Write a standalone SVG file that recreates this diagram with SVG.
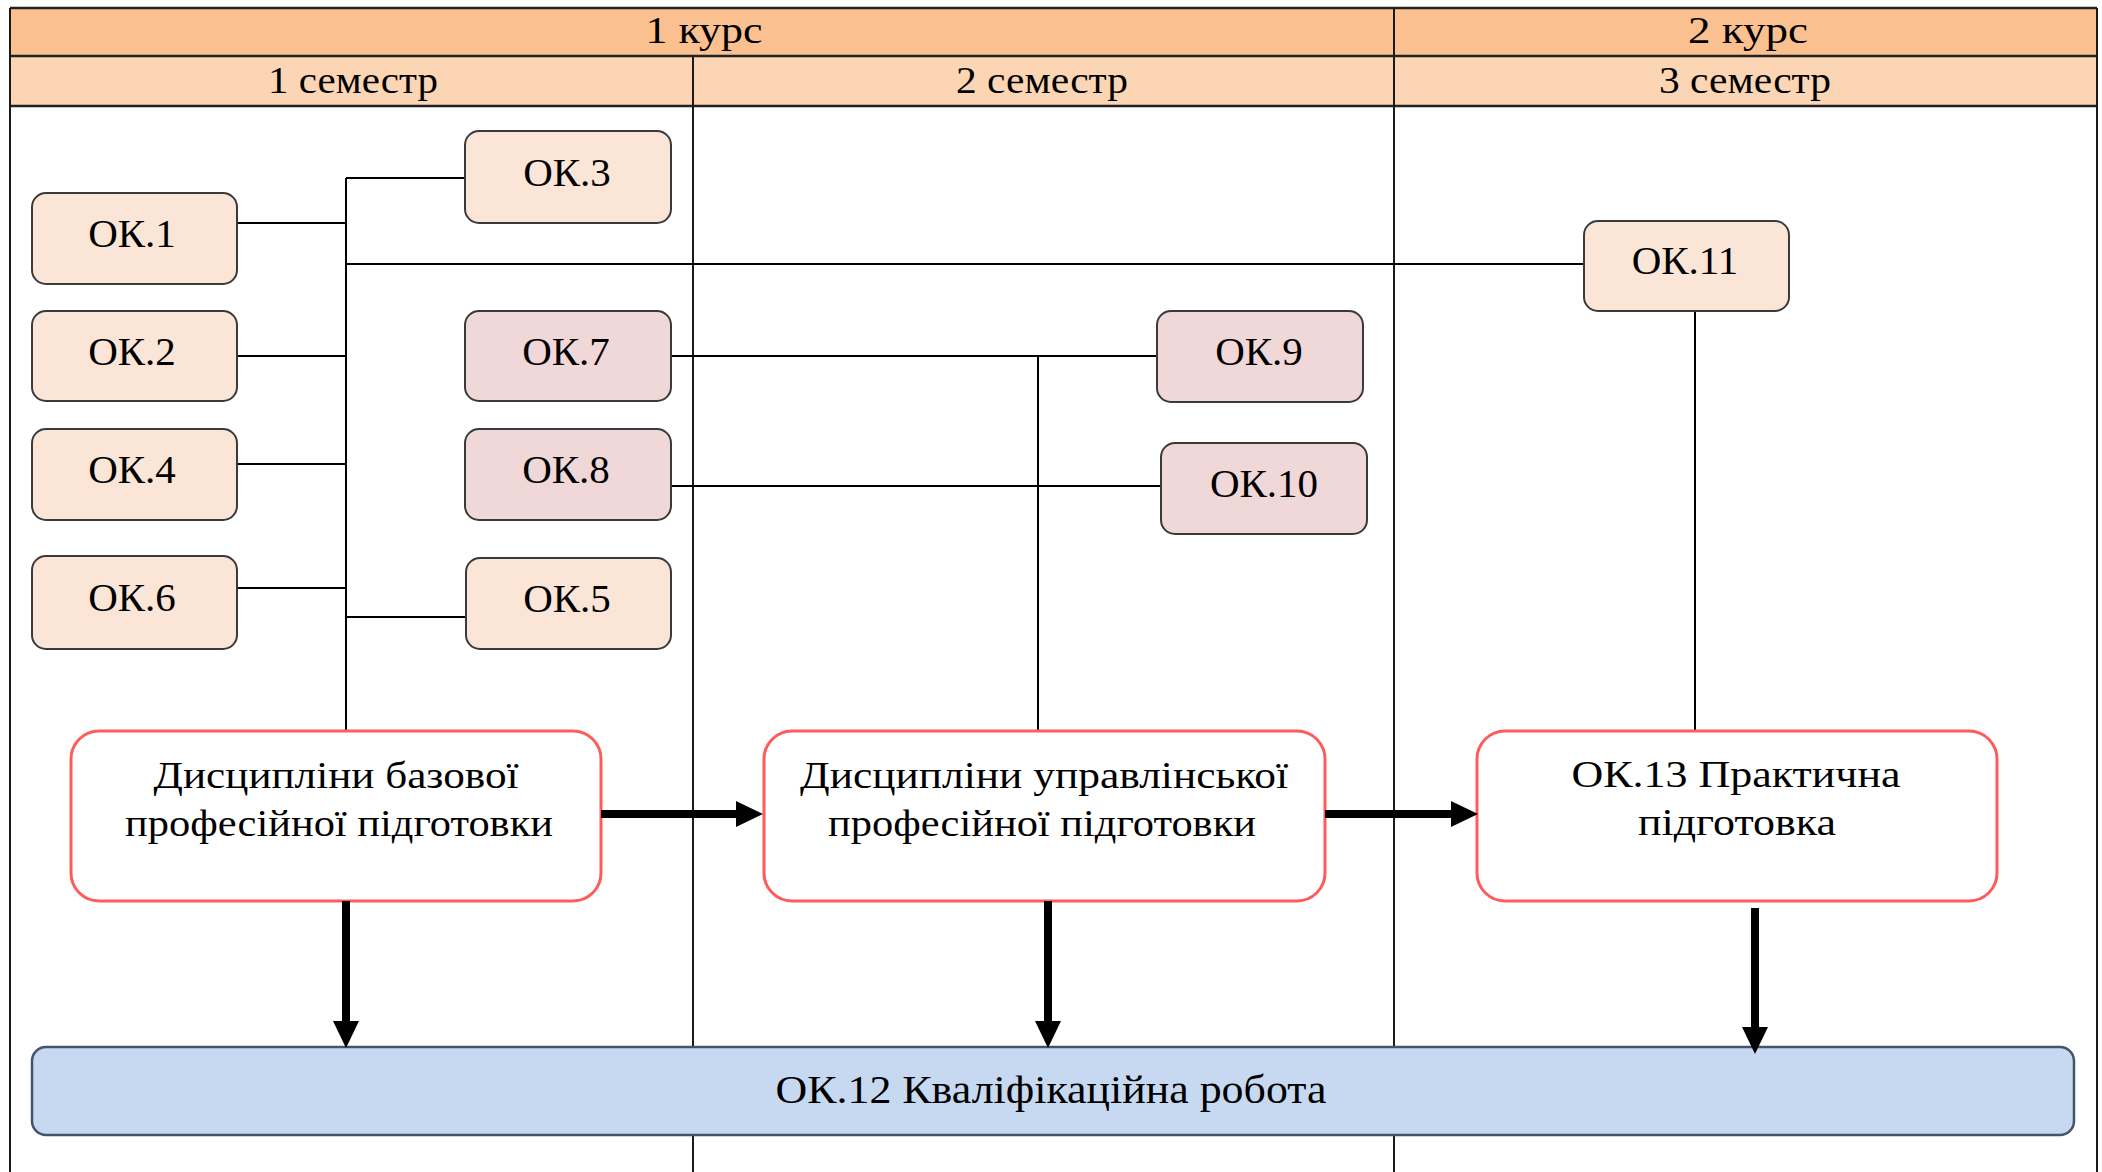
<svg xmlns="http://www.w3.org/2000/svg" width="2102" height="1172" viewBox="0 0 2102 1172">
<style>
text{font-family:"Liberation Serif","Times New Roman",serif;fill:#000;text-anchor:middle}
.hd{font-size:38px}
.ok{font-size:41px}
.big{font-size:38px}
.frame{stroke:#1a1a1a;stroke-width:2;fill:none}
.hline{stroke:#222;stroke-width:2.5}
.peach{fill:#FBE5D6;stroke:#3a3a3a;stroke-width:2}
.pink{fill:#F0D7D8;stroke:#3a3a3a;stroke-width:2}
.main{fill:#fff;stroke:#FF5B5B;stroke-width:3}
.final{fill:#C6D9F0;stroke:#44546A;stroke-width:2.5}
.thin{stroke:#000;stroke-width:2;fill:none}
.thick{stroke:#000;stroke-width:8;fill:none}
</style>
<defs>
<marker id="ah" viewBox="0 0 27 26" refX="0" refY="13" markerWidth="27" markerHeight="26" markerUnits="userSpaceOnUse" orient="auto">
<path d="M0,0 L27,13 L0,26 z" fill="#000"/>
</marker>
</defs>
<g id="table">
<rect x="10" y="8" width="2087" height="48" fill="#FAC090"/>
<rect x="10" y="56" width="2087" height="50" fill="#FCD5B4"/>
<line class="hline" x1="10" y1="8" x2="2097" y2="8"/>
<line class="hline" x1="10" y1="56" x2="2097" y2="56"/>
<line class="hline" x1="10" y1="106" x2="2097" y2="106"/>
<line class="frame" x1="10" y1="8" x2="10" y2="1172"/>
<line class="frame" x1="2097" y1="8" x2="2097" y2="1172"/>
<line class="frame" x1="1394" y1="8" x2="1394" y2="1172"/>
<line class="frame" x1="693" y1="56" x2="693" y2="1172"/>
<text class="hd" x="704" y="43" textLength="117" lengthAdjust="spacingAndGlyphs">1 курс</text>
<text class="hd" x="1748" y="43" textLength="120" lengthAdjust="spacingAndGlyphs">2 курс</text>
<text class="hd" x="353" y="93" textLength="170" lengthAdjust="spacingAndGlyphs">1 семестр</text>
<text class="hd" x="1042" y="93" textLength="172" lengthAdjust="spacingAndGlyphs">2 семестр</text>
<text class="hd" x="1745" y="93" textLength="172" lengthAdjust="spacingAndGlyphs">3 семестр</text>
</g>
<g id="connectors">
<path class="thin" d="M346 178 V731 M346 178 H465 M237 223 H346 M346 264 H1584 M237 356 H346 M237 464 H346 M237 588 H346 M346 617 H466 M671 356 H1157 M1038 356 V731 M671 486 H1161 M1695 311 V731"/>
</g>
<g id="ok1"><rect class="peach" x="32" y="193" width="205" height="91" rx="14"/><text class="ok" x="132" y="247">ОК.1</text></g>
<g id="ok2"><rect class="peach" x="32" y="311" width="205" height="90" rx="14"/><text class="ok" x="132" y="365">ОК.2</text></g>
<g id="ok4"><rect class="peach" x="32" y="429" width="205" height="91" rx="14"/><text class="ok" x="132" y="483">ОК.4</text></g>
<g id="ok6"><rect class="peach" x="32" y="556" width="205" height="93" rx="14"/><text class="ok" x="132" y="611">ОК.6</text></g>
<g id="ok3"><rect class="peach" x="465" y="131" width="206" height="92" rx="14"/><text class="ok" x="567" y="186">ОК.3</text></g>
<g id="ok7"><rect class="pink" x="465" y="311" width="206" height="90" rx="14"/><text class="ok" x="566" y="365">ОК.7</text></g>
<g id="ok8"><rect class="pink" x="465" y="429" width="206" height="91" rx="14"/><text class="ok" x="566" y="483">ОК.8</text></g>
<g id="ok5"><rect class="peach" x="466" y="558" width="205" height="91" rx="14"/><text class="ok" x="567" y="612">ОК.5</text></g>
<g id="ok9"><rect class="pink" x="1157" y="311" width="206" height="91" rx="14"/><text class="ok" x="1259" y="365">ОК.9</text></g>
<g id="ok10"><rect class="pink" x="1161" y="443" width="206" height="91" rx="14"/><text class="ok" x="1264" y="497">ОК.10</text></g>
<g id="ok11"><rect class="peach" x="1584" y="221" width="205" height="90" rx="14"/><text class="ok" x="1685" y="274">ОК.11</text></g>
<g id="base"><rect class="main" x="71" y="731" width="530" height="170" rx="28"/><text class="big" x="336" y="788" textLength="365" lengthAdjust="spacingAndGlyphs">Дисципліни базової</text><text class="big" x="339" y="836" textLength="428" lengthAdjust="spacingAndGlyphs">професійної підготовки</text></g>
<g id="mgmt"><rect class="main" x="764" y="731" width="561" height="170" rx="28"/><text class="big" x="1044" y="788" textLength="488" lengthAdjust="spacingAndGlyphs">Дисципліни управлінської</text><text class="big" x="1042" y="836" textLength="428" lengthAdjust="spacingAndGlyphs">професійної підготовки</text></g>
<g id="ok13"><rect class="main" x="1477" y="731" width="520" height="170" rx="28"/><text class="big" x="1736" y="787" textLength="329" lengthAdjust="spacingAndGlyphs">ОК.13 Практична</text><text class="big" x="1737" y="835" textLength="198" lengthAdjust="spacingAndGlyphs">підготовка</text></g>
<g id="ok12"><rect class="final" x="32" y="1047" width="2042" height="88" rx="14"/><text class="ok" x="1051" y="1103" textLength="551" lengthAdjust="spacingAndGlyphs">ОК.12 Кваліфікаційна робота</text></g>
<g id="arrows">
<line class="thick" x1="601" y1="814" x2="736" y2="814" marker-end="url(#ah)"/>
<line class="thick" x1="1325" y1="814" x2="1451" y2="814" marker-end="url(#ah)"/>
<line class="thick" x1="346" y1="901" x2="346" y2="1021" marker-end="url(#ah)"/>
<line class="thick" x1="1048" y1="901" x2="1048" y2="1021" marker-end="url(#ah)"/>
<line class="thick" x1="1755" y1="908" x2="1755" y2="1027" marker-end="url(#ah)"/>
</g>
</svg>
